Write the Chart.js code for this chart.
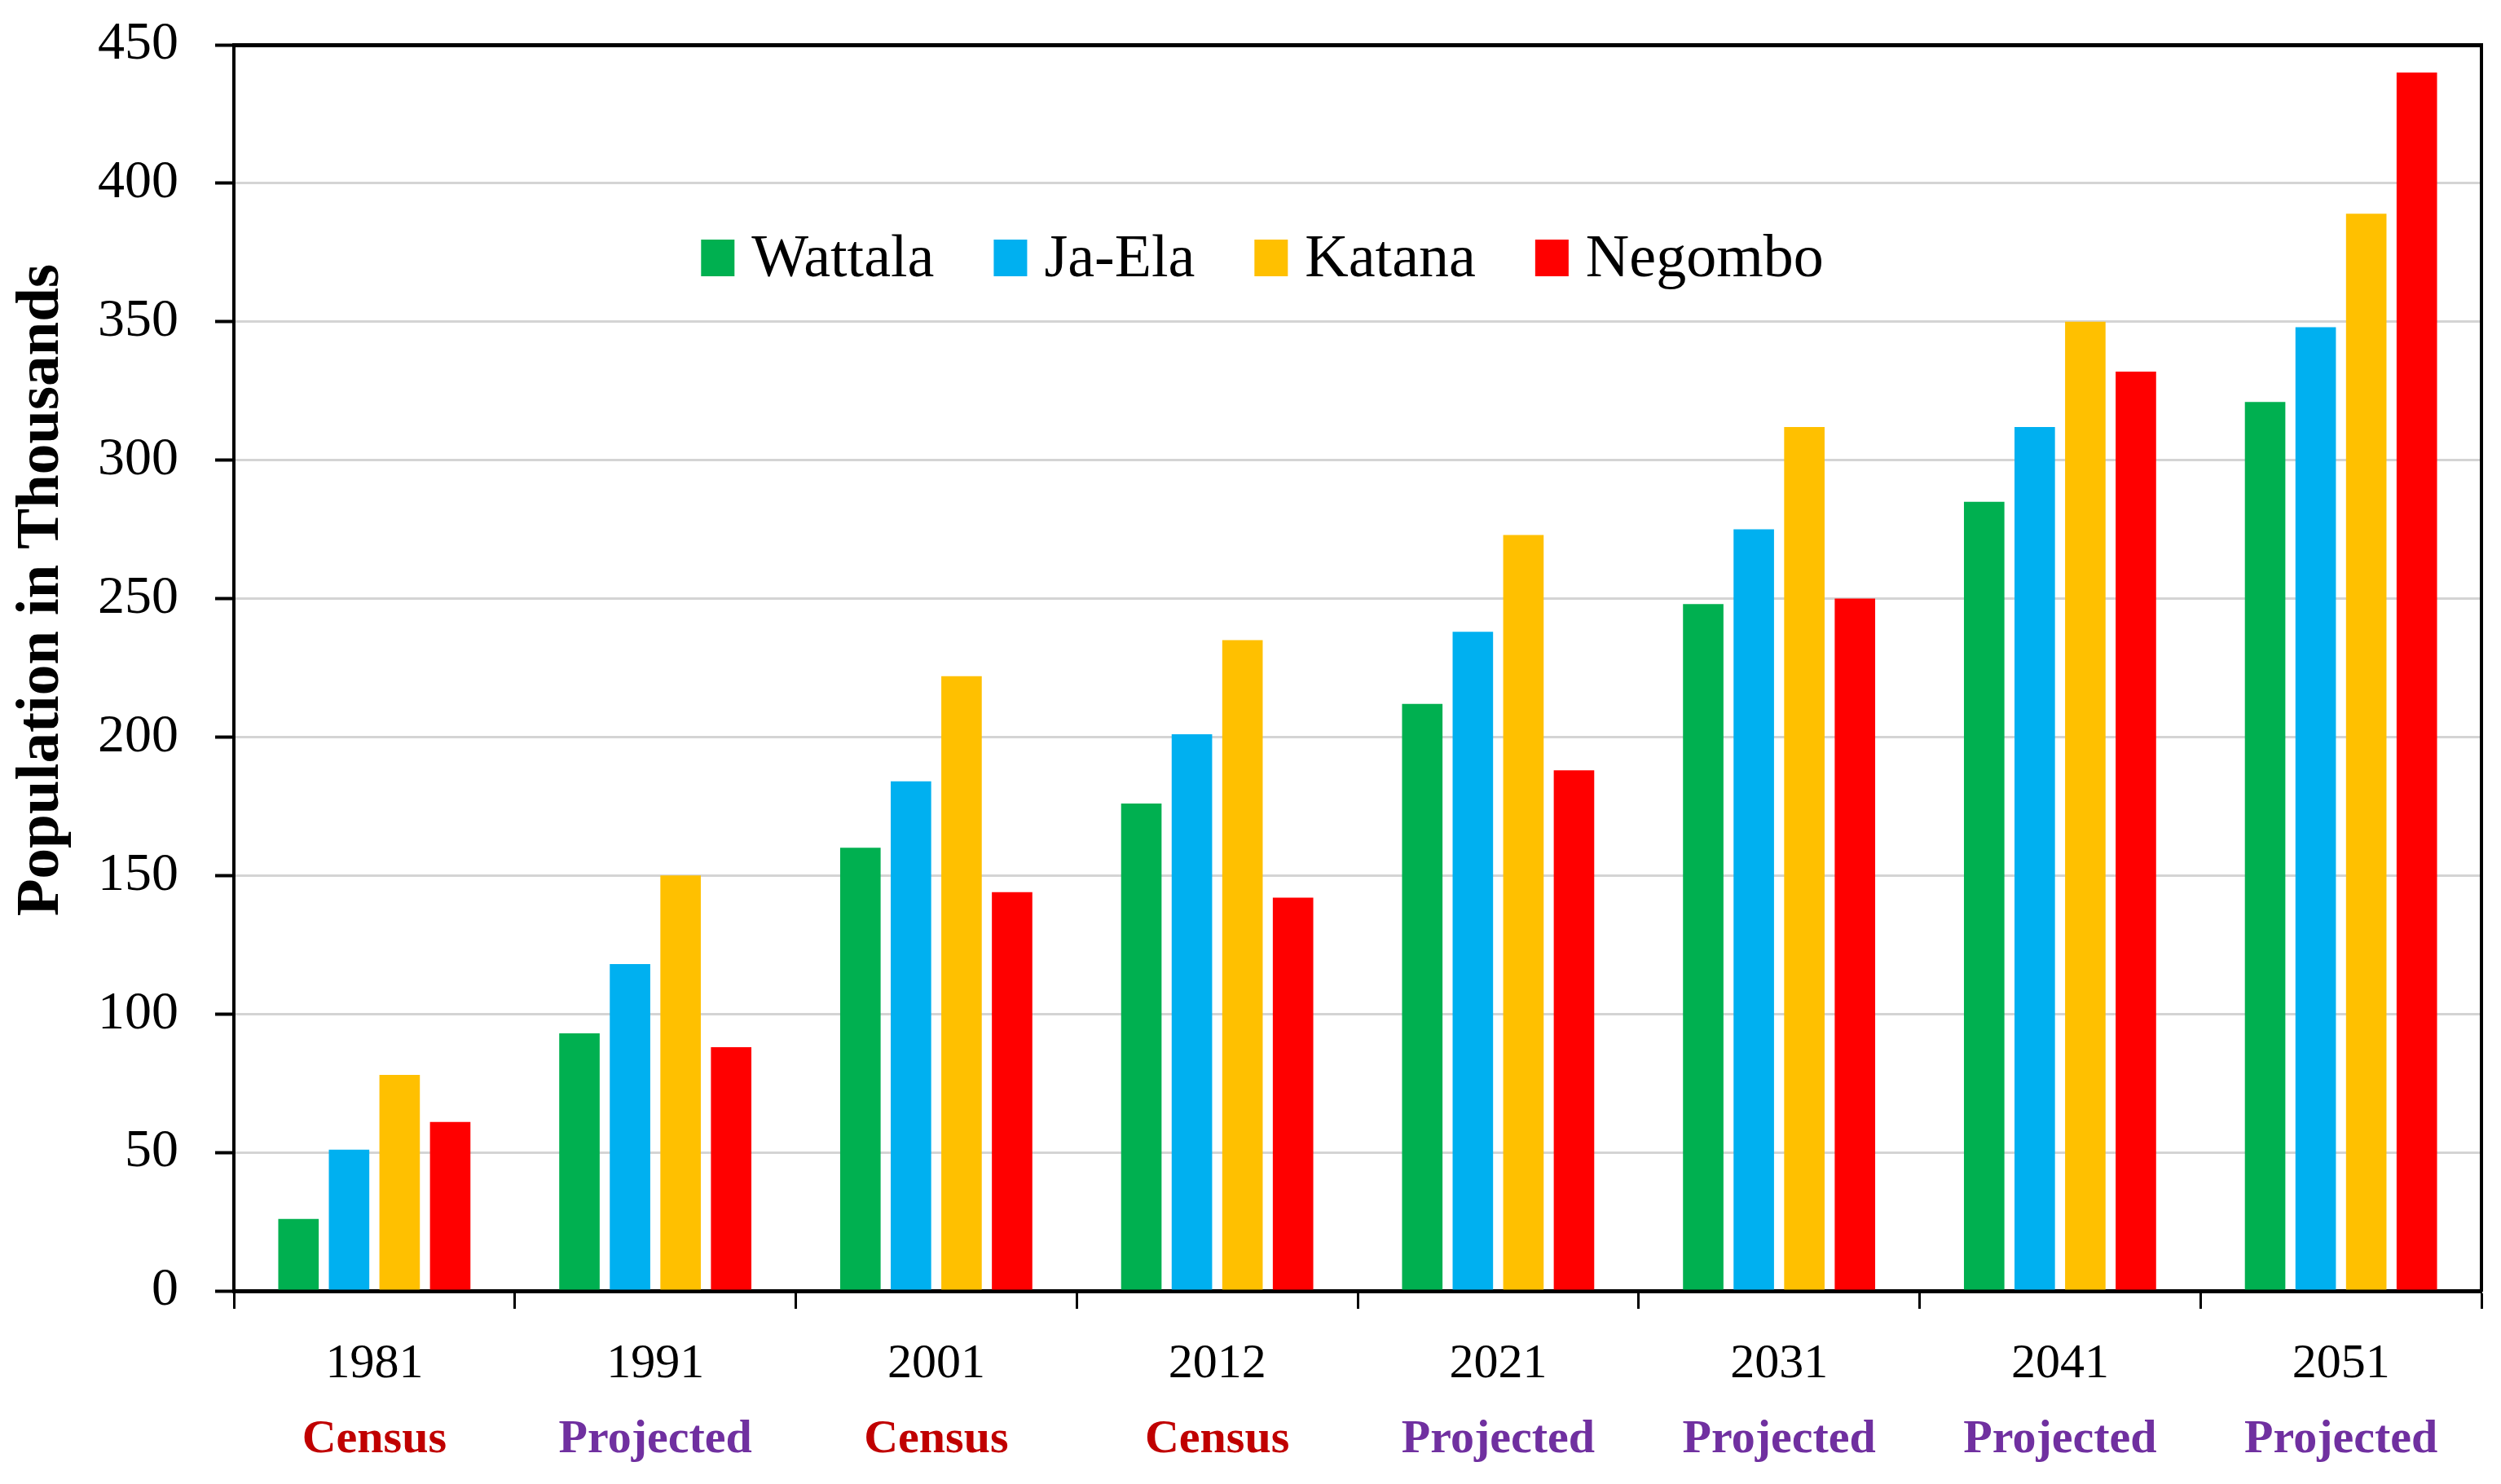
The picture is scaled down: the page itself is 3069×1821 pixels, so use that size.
<!DOCTYPE html>
<html lang="en">
<head>
    <meta charset="UTF-8">
    <title>Population in Thousands</title>
    <script src="https://cdn.jsdelivr.net/npm/chart.js"></script>
    <style>
        html, body { margin: 0; padding: 0; background: #fff; }
        #wrap { width: 3069px; height: 1821px; }
    </style>
</head>
<body>
<div id="wrap"><canvas id="popChart"></canvas></div>

<script>
    // Census / projection years and what kind of figure each one is
    var years = ['1981', '1991', '2001', '2012', '2021', '2031', '2041', '2051'];
    var yearKind = ['Census', 'Projected', 'Census', 'Census', 'Projected', 'Projected', 'Projected', 'Projected'];

    // Population in thousands
    var wattala = [26, 93, 160, 176, 212, 248, 285, 321];
    var jaEla   = [51, 118, 184, 201, 238, 275, 312, 348];
    var katana  = [78, 150, 222, 235, 273, 312, 350, 389];
    var negombo = [61, 88, 144, 142, 188, 250, 332, 440];

    var yTicks = [0, 50, 100, 150, 200, 250, 300, 350, 400, 450];
    var yTitle = 'Population in Thousands';

    var serif = "'Liberation Serif', 'DejaVu Serif', serif";

    // legend inside the plot and the rotated axis title
    var extras = {
        id: 'extras',
        afterDraw: function(chart) {
            var ctx = chart.ctx;
            ctx.save();

            // y axis title
            ctx.font = 'bold 75px ' + serif;
            ctx.fillStyle = '#000';
            ctx.textAlign = 'center';
            ctx.textBaseline = 'alphabetic';
            ctx.translate(71, 724);
            ctx.rotate(-Math.PI / 2);
            ctx.fillText(yTitle, 0, 0);
            ctx.restore();

            // legend
            ctx.save();
            ctx.font = '74px ' + serif;
            ctx.textBaseline = 'alphabetic';
            ctx.textAlign = 'left';
            var sets = chart.data.datasets;
            var boxW = 41, boxH = 45, boxGap = 21, itemGap = 73;
            var widths = sets.map(function(ds) {
                return boxW + boxGap + ctx.measureText(ds.label).width;
            });
            var total = widths.reduce(function(a, b) { return a + b; }, 0) + itemGap * (sets.length - 1);
            var x = 1549 - total / 2;
            var base = 339;
            sets.forEach(function(ds, i) {
                ctx.fillStyle = ds.backgroundColor;
                ctx.fillRect(x, base - boxH, boxW, boxH);
                ctx.fillStyle = '#000';
                ctx.fillText(ds.label, x + boxW + boxGap, base);
                x += widths[i] + itemGap;
            });
            ctx.restore();
        }
    };

    var ctx = document.getElementById('popChart').getContext('2d');

    new Chart(ctx, {
        type: 'bar',
        data: {
            labels: years,
            datasets: [
                { label: 'Wattala', data: wattala, backgroundColor: '#00B050' },
                { label: 'Ja-Ela', data: jaEla, backgroundColor: '#00B0F0' },
                { label: 'Katana', data: katana, backgroundColor: '#FFC000' },
                { label: 'Negombo', data: negombo, backgroundColor: '#FF0000' }
            ]
        },
        options: {
            responsive: true,
            maintainAspectRatio: false,
            animation: false,
            categoryPercentage: 0.72,
            barPercentage: 0.8,
            layout: { padding: { left: 0, top: 55, right: 24, bottom: 0 } },
            plugins: {
                legend: { display: false },
                tooltip: { enabled: false }
            },
            scales: {
                x: {
                    position: 'bottom',
                    offset: true,
                    grid: {
                        offset: true,
                        drawOnChartArea: false,
                        drawTicks: true,
                        tickLength: 22,
                        tickColor: '#000',
                        tickWidth: 3
                    },
                    border: { display: true, color: '#000', width: 5 },
                    ticks: {
                        color: '#000',
                        font: { family: serif, size: 60 },
                        padding: 32,
                        maxRotation: 0,
                        autoSkip: false
                    },
                    afterFit: function(scale) { scale.height = 122; }
                },
                x2: {
                    type: 'category',
                    labels: yearKind,
                    position: 'bottom',
                    offset: true,
                    grid: { display: false, drawTicks: false },
                    border: { display: false },
                    ticks: {
                        color: function(c) {
                            return yearKind[c.index] === 'Census' ? '#C00000' : '#7030A0';
                        },
                        font: { family: serif, size: 58, weight: 'bold' },
                        padding: 26,
                        maxRotation: 0,
                        autoSkip: false
                    },
                    afterFit: function(scale) { scale.height = 115; }
                },
                y: {
                    min: 0,
                    max: 450,
                    afterBuildTicks: function(scale) {
                        scale.ticks = yTicks.map(function(v) { return { value: v }; });
                    },
                    grid: {
                        color: function(c) { return c.tick && c.tick.value === 450 ? '#000' : '#d4d4d4'; },
                        lineWidth: function(c) { return c.tick && c.tick.value === 450 ? 5 : 3; },
                        tickLength: 23,
                        tickColor: '#000',
                        tickWidth: 4
                    },
                    border: { display: true, color: '#000', width: 4 },
                    ticks: {
                        color: '#000',
                        font: { family: serif, size: 66 },
                        padding: 45
                    },
                    afterFit: function(scale) {
                        scale.width = 287;
                        scale.paddingTop = 0;
                        scale.paddingBottom = 0;
                    }
                },
                yRight: {
                    position: 'right',
                    min: 0,
                    max: 450,
                    grid: { display: true, drawOnChartArea: false, drawTicks: false },
                    border: { display: true, color: '#000', width: 4 },
                    ticks: { display: false },
                    afterFit: function(scale) { scale.width = 0; }
                }
            }
        },
        plugins: [extras]
    });
</script>
</body>
</html>
